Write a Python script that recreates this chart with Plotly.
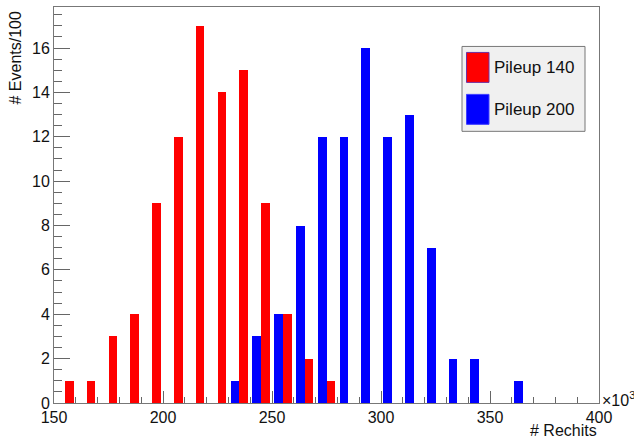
import plotly.graph_objects as go

# ---- data ----
bin_edges = list(range(150, 400, 10))  # left edges of 10k-wide bins (x10^3)
pileup140 = [1, 1, 3, 4, 9, 12, 17, 14, 15, 9, 4, 2, 1, 0, 0, 0, 0, 0, 0, 0, 0, 0, 0, 0, 0]
pileup200 = [0, 0, 0, 0, 0, 0, 0, 0, 1, 3, 4, 8, 12, 12, 16, 12, 13, 7, 2, 2, 0, 1, 0, 0, 0]
series_names = ["Pileup 140", "Pileup 200"]
x_tick_vals = [150, 200, 250, 300, 350, 400]
y_tick_vals = [0, 2, 4, 6, 8, 10, 12, 14, 16]

W, H = 634, 438
L, R, T, B = 54, 35, 6.5, 35
pw, ph = W - L - R, H - T - B

def px(xp):
    return (xp - L) / pw

def py(yp):
    return 1 - (yp - T) / ph

FONT = "Liberation Sans, Arial, Helvetica, sans-serif"

fig = go.Figure()
fig.add_trace(go.Bar(x=bin_edges, y=pileup200, width=4, offset=1,
                     marker=dict(color="#0000ff", line=dict(width=0)),
                     name=series_names[1], showlegend=False))
fig.add_trace(go.Bar(x=bin_edges, y=pileup140, width=4, offset=5,
                     marker=dict(color="#ff0000", line=dict(width=0)),
                     name=series_names[0], showlegend=False))

axis_common = dict(showline=True, linecolor="#777777", linewidth=1, mirror=True,
                   showgrid=False, zeroline=False, ticks="inside", automargin=False,
                   tickcolor="#666666", tickwidth=1,
                   tickfont=dict(family=FONT, size=16, color="#111111"))

fig.update_layout(
    width=W, height=H,
    margin=dict(l=L, r=R, t=T, b=B, autoexpand=False),
    paper_bgcolor="white", plot_bgcolor="white",
    barmode="overlay", bargap=0,
    showlegend=False,
    xaxis=dict(range=[150, 400], tickvals=x_tick_vals, ticklen=12,
               minor=dict(dtick=10, tick0=150, ticklen=6, ticks="inside", tickcolor="#666666"),
               **axis_common),
    yaxis=dict(range=[0, 17.85], tickvals=y_tick_vals, ticklen=16,
               minor=dict(dtick=0.5, tick0=0, ticklen=8, ticks="inside", tickcolor="#666666"),
               **axis_common),
)

# axis titles
fig.add_annotation(text="# Rechits", xref="paper", yref="paper", x=1, y=py(431),
                   xanchor="right", yanchor="middle", showarrow=False,
                   font=dict(family=FONT, size=16, color="#111111"))
fig.add_annotation(text="×10<sup>3</sup>", xref="paper", yref="paper", x=px(600), y=py(399),
                   xanchor="left", yanchor="middle", showarrow=False,
                   font=dict(family=FONT, size=16, color="#111111"))
fig.add_annotation(text="# Events/100", xref="paper", yref="paper", x=px(15), y=1 - (1.5 / ph),
                   xanchor="center", yanchor="top", textangle=-90, showarrow=False,
                   font=dict(family=FONT, size=16, color="#111111"))

# legend box
fig.add_shape(type="rect", xref="paper", yref="paper",
              x0=px(462), x1=px(585), y0=py(131), y1=py(46),
              fillcolor="#f0f0f0", line=dict(color="#777777", width=1))
fig.add_shape(type="rect", xref="paper", yref="paper",
              x0=px(466.5), x1=px(489), y0=py(82), y1=py(52),
              fillcolor="#ff0000", line=dict(color="#7030a0", width=1))
fig.add_shape(type="rect", xref="paper", yref="paper",
              x0=px(466.5), x1=px(489), y0=py(124), y1=py(94),
              fillcolor="#0000ff", line=dict(color="#4040ff", width=1))
for name, yc in zip(series_names, [67, 109]):
    fig.add_annotation(text=name, xref="paper", yref="paper", x=px(492), y=py(yc),
                       xanchor="left", yanchor="middle", showarrow=False,
                       font=dict(family=FONT, size=17, color="#111111"))

fig.write_html("out.html",
               config={"displayModeBar": False},
               post_script="document.body.style.margin='0';document.body.style.padding='0';")
